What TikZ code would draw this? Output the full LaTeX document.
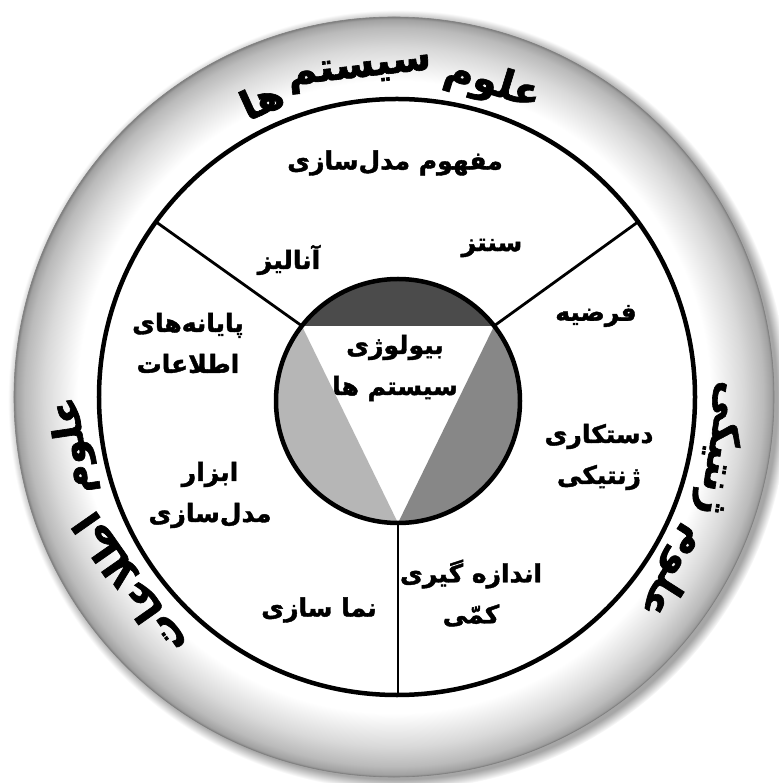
\documentclass[tikz,border=0pt]{standalone}
\usepackage{fontspec}
\newfontfamily\fafont[Script=Arabic, BoldFeatures={FakeBold=1.6}]{DejaVu Sans}
\TeXXeTstate=1
\usetikzlibrary{calc}
\definecolor{segdark}{RGB}{75,75,75}
\definecolor{segmid}{RGB}{135,135,135}
\definecolor{seglight}{RGB}{182,182,182}
\newcommand{\fatxt}[1]{\beginR#1\endR}
\pgfdeclareradialshading{ringshade}{\pgfpointorigin}{color(0bp)=(white); color(20.8bp)=(white); color(23bp)=(black!15); color(24.3bp)=(black!27); color(24.85bp)=(black!37); color(25bp)=(black!50); color(50bp)=(black!50)}
\pgfdeclareradialshading{shadowshade}{\pgfpointorigin}{color(0bp)=(black!35); color(24.3bp)=(black!35); color(25bp)=(white); color(50bp)=(white)}
\tikzset{
  labeltext/.style={font=\fafont\bfseries\fontsize{25}{41}\selectfont, align=center},
  ringword/.style={font=\fafont\bfseries\fontsize{40}{42}\selectfont},
  rim/.style={line width=4.5pt},
  spoke/.style={line width=2.8pt}
}
\begin{document}
\begin{tikzpicture}[x=1pt, y=1pt]

  \useasboundingbox (-397,-386) rectangle (381,397);

  % Shadow and outer ring
  \shade[shading=shadowshade] (1,-3) circle (390);
  \shade[shading=ringshade] (-3,0) circle (380);
  \draw[black!50, line width=0.6pt] (-3,0) circle (380);

  % Words along the ring
  \foreach \ang/\word [count=\i] in {73/علوم, 96.5/سیستم, 114.5/ها,
      188.5/علوم, 215/اطلاعات, -32.5/علوم, -9/ژنتیکی}
    \node[ringword, rotate=\ang-90] (ring\i) at (\ang:327) {\fatxt{\word}};

  % Main circle
  \filldraw[fill=white, rim] (0,0) circle (298);

  % Inner circle and its three segments
  \coordinate (sc) at (1,-4);
  \coordinate (vtl) at ($(sc)+(142:122)$);
  \coordinate (vtr) at ($(sc)+(38:122)$);
  \coordinate (vb) at ($(sc)+(270:122)$);
  \begin{scope}
    \clip (sc) circle (122);
    \fill[segdark] ($(vtl)+(-60,0)$) rectangle ($(vtr)+(60,100)$);
    \fill[seglight] (vtl) -- (vb) -- ++(-200,0) -- ($(vtl)+(-100,0)$) -- cycle;
    \fill[segmid] (vtr) -- (vb) -- ++(200,0) -- ($(vtr)+(100,0)$) -- cycle;
  \end{scope}
  \draw[rim] (sc) circle (122);

  % Spokes
  \coordinate (etl) at (144:298);
  \coordinate (etr) at (36:298);
  \coordinate (eb) at (1,-298);
  \draw[spoke] (vtl) -- (etl);
  \draw[spoke] (vtr) -- (etr);
  \draw[spoke] (vb) -- (eb);

  % Labels
  \node[labeltext] (core) at (-2,29) {\fatxt{بیولوژی}\\\fatxt{سیستم ها}};
  \node[labeltext] (concept) at (-2,234) {\fatxt{مفهوم مدل^^^^200cسازی}};
  \node[labeltext] (analysis) at (-108,137) {\fatxt{آنالیز}};
  \node[labeltext] (synth) at (95,149) {\fatxt{سنتز}};
  \node[labeltext] (database) at (-209,54) {\fatxt{پایانه^^^^200cهای}\\\fatxt{اطلاعات}};
  \node[labeltext] (hypo) at (199,81) {\fatxt{فرضیه}};
  \node[labeltext] (genetic) at (202,-60) {\fatxt{دستکاری}\\\fatxt{ژنتیکی}};
  \node[labeltext] (tools) at (-187,-98) {\fatxt{ابزار}\\\fatxt{مدل^^^^200cسازی}};
  \node[labeltext] (visual) at (-78,-213) {\fatxt{نما سازی}};
  \node[labeltext] (measure) at (74,-196) {\fatxt{اندازه گیری}\\\fatxt{کمّی}};

\end{tikzpicture}
\end{document}
